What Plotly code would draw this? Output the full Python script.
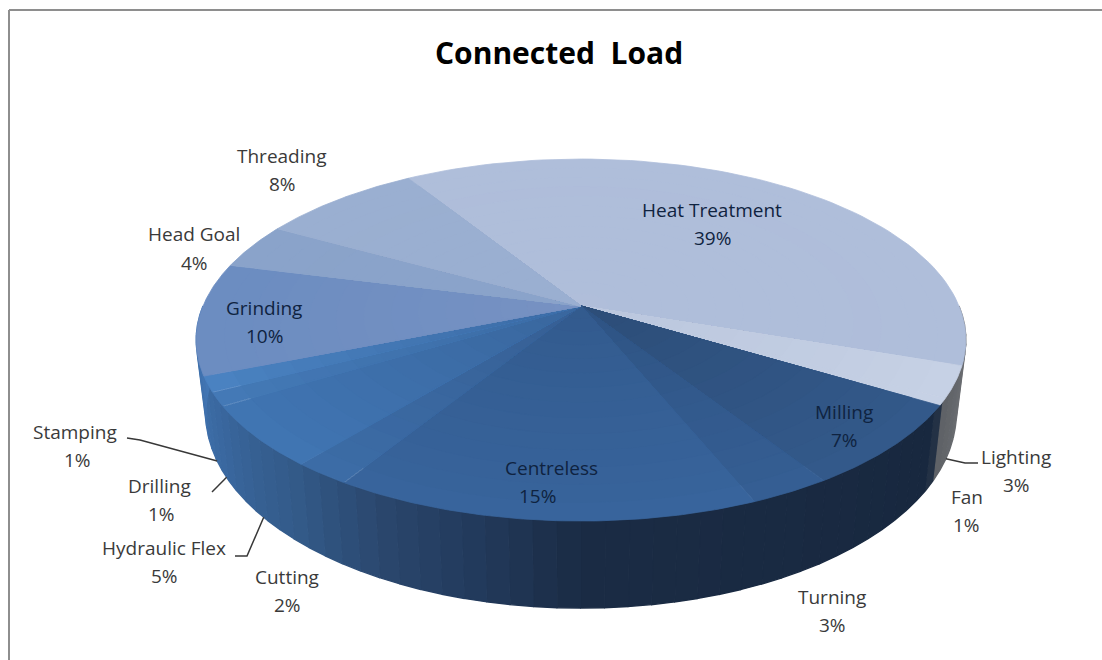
import numpy as np
import plotly.graph_objects as go

# ---- data -------------------------------------------------------------
categories = ["Heat Treatment", "Lighting", "Fan", "Milling", "Turning", "Centreless",
              "Cutting", "Hydraulic Flex", "Drilling", "Stamping", "Grinding",
              "Head Goal", "Threading"]
values = [39.1, 2.8, 0.6, 7.3, 2.9, 15.0, 2.1, 5.4, 1.2, 1.4, 10.0, 4.1, 8.1]
pct_labels = ["39%", "3%", "1%", "7%", "3%", "15%", "2%", "5%", "1%", "1%", "10%", "4%", "8%"]

# ---- styles -----------------------------------------------------------
outer_colors = ["#AFBEDA", "#C6D1E5", "#C6D1E5", "#33598A", "#355E93", "#38649C",
                "#3C6CA6", "#4075B2", "#4479B6", "#4A82C1", "#6C8DC1", "#8AA3CA", "#9AAFD1"]
inner_colors = ["#B0BEDA", "#BBC7DE", "#BBC7DE", "#2D4E79", "#2F5484", "#335B8E",
                "#375F95", "#3A679F", "#3C6CA6", "#3C6CA6", "#7792C3", "#8AA3CA", "#9AAFD1"]
wall_stops = [(95, "#75777B"), (119, "#5F6267"), (122, "#18283F"), (180, "#1B2C45"),
              (192, "#22395A"), (205, "#2A466C"), (220, "#335A88"), (240, "#3A689F"),
              (265, "#4276B4")]
label_pos = {
    "Heat Treatment": (712, 210, 712, 238), "Lighting": (1016, 457, 1016, 485),
    "Fan": (967, 497, 966, 525), "Milling": (844, 412, 844, 440),
    "Turning": (832, 597, 832, 625), "Centreless": (551, 468, 537, 496),
    "Cutting": (287, 577, 287, 605), "Hydraulic Flex": (164, 548, 164, 576),
    "Drilling": (159, 486, 161, 514), "Stamping": (75, 432, 77, 460),
    "Grinding": (264, 308, 264, 336), "Head Goal": (194, 234, 194, 263),
    "Threading": (282, 156, 282, 184),
}
inside = {"Heat Treatment", "Milling", "Centreless", "Grinding"}
leaders = {"Stamping": [(127, 438), (140, 440)], "Drilling": [(212, 492)],
           "Hydraulic Flex": [(235, 556), (247, 556)], "Lighting": [(978, 463), (965, 463)]}

# ---- pie geometry (perspective projection of a disc) -------------------
CX, CY, R, B, K, DEPTH = 581, 306, 378, 174.6, 0.188, 70.7
NARROW = 0.975
START = -32.0
RINGS = 14


def project(deg, r=1.0, drop=0.0):
    t = np.radians(deg)
    X, Y = r * np.sin(t), -r * np.cos(t)
    w = 1 / (1 - K * Y)
    sx = NARROW if drop else 1.0
    return CX + sx * R * X * w, CY + B * Y * w + drop * DEPTH * w


def mix(c0, c1, f):
    p = [int(c0[i:i + 2], 16) * (1 - f) + int(c1[i:i + 2], 16) * f for i in (1, 3, 5)]
    return "rgb(%d,%d,%d)" % tuple(p)


def wall_color(a):
    a = min(max(a, wall_stops[0][0]), wall_stops[-1][0])
    for (a0, c0), (a1, c1) in zip(wall_stops, wall_stops[1:]):
        if a0 <= a <= a1:
            return mix(c0, c1, (a - a0) / (a1 - a0))


total = sum(values)
edges = START + np.concatenate([[0], np.cumsum(values)]) * 360 / total
fig = go.Figure()

# side wall strips
for a0 in np.arange(90, 270, 3.0):
    a = np.linspace(a0, a0 + 3.0, 5)
    xt, yt = project(a)
    xb, yb = project(a[::-1], drop=1.0)
    col = wall_color(a0 + 1.5)
    fig.add_trace(go.Scatter(x=np.r_[xt, xb], y=np.r_[yt, yb], mode="lines", fill="toself",
                             fillcolor=col, line=dict(color=col, width=1.4), hoverinfo="skip"))

# top slices: nested wedges give the soft outer-to-inner shading
for i, name in enumerate(categories):
    a = np.linspace(edges[i], edges[i + 1], 80)
    for k in range(RINGS):
        r = 1 - k / RINGS
        x, y = project(a, r=r)
        col = mix(outer_colors[i], inner_colors[i], k / (RINGS - 1))
        fig.add_trace(go.Scatter(x=np.r_[CX, x, CX], y=np.r_[CY, y, CY], mode="lines",
                                 fill="toself", fillcolor=col, line=dict(color=col, width=0.8),
                                 name=name, hoverinfo="skip"))

# leader lines: from the label to the outer wall at the slice's middle
for name, pts in leaders.items():
    i = categories.index(name)
    mid = (edges[i] + edges[i + 1]) / 2
    ex, ey = project(mid, drop=1.0)
    xs = [p[0] for p in pts] + [ex]
    ys = [p[1] for p in pts] + [ey]
    fig.add_trace(go.Scatter(x=xs, y=ys, mode="lines", line=dict(color="#383838", width=1.5),
                             hoverinfo="skip"))

anns = []
for name, pct in zip(categories, pct_labels):
    nx, ny, px, py = label_pos[name]
    col = "#0F2340" if name in inside else "#3A3A3A"
    for txt, x, y in ((name, nx, ny), (pct, px, py)):
        anns.append(dict(x=x, y=y, text=txt, showarrow=False, xref="x", yref="y",
                         xanchor="center", yanchor="middle",
                         font=dict(family="Open Sans", size=19, color=col)))
anns.append(dict(x=559, y=52, text="<b>Connected  Load</b>", showarrow=False, xref="x", yref="y",
                 font=dict(family="Open Sans", size=30, color="#000000")))

frame = dict(type="line", xref="x", yref="y", line=dict(color="#8E8E8E", width=2))
shapes = [dict(frame, x0=9, y0=10, x1=1102, y1=10), dict(frame, x0=9, y0=10, x1=9, y1=660)]

fig.update_layout(width=1102, height=660, margin=dict(l=0, r=0, t=0, b=0),
                  paper_bgcolor="white", plot_bgcolor="white", showlegend=False,
                  annotations=anns, shapes=shapes,
                  xaxis=dict(range=[0, 1102], visible=False, fixedrange=True),
                  yaxis=dict(range=[660, 0], visible=False, fixedrange=True))
fig.write_html("out.html", config={"displayModeBar": False},
               post_script="document.body.style.margin='0';")
